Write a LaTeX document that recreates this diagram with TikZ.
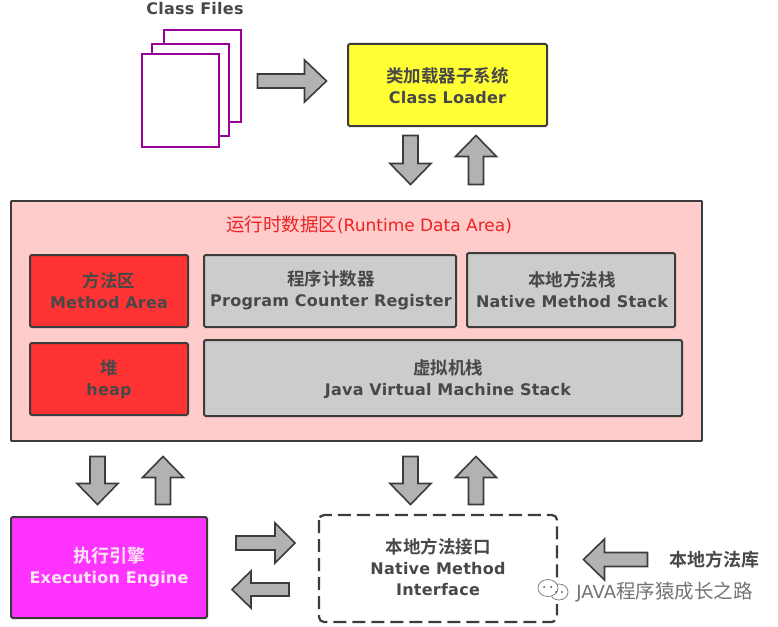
\documentclass[tikz,border=0pt]{standalone}
\usepackage{fontspec}
\setmainfont{DejaVu Sans}
\newfontfamily\lat{DejaVu Sans Bold}[LetterSpace=1.5]
\newfontfamily\cjk{Noto Sans CJK SC}[BoldFont={Noto Sans CJK SC Bold}]
\definecolor{txt}{HTML}{484848}
\definecolor{edge}{HTML}{3C3C3C}
\definecolor{arrowfill}{HTML}{B2B2B2}
\definecolor{purp}{HTML}{990099}
\definecolor{cyellow}{HTML}{FFFF33}
\definecolor{cred}{HTML}{FF3333}
\definecolor{cpink}{HTML}{FFCCCC}
\definecolor{cgray}{HTML}{CCCCCC}
\definecolor{cmag}{HTML}{FF33FF}
\definecolor{ctitle}{HTML}{EE2222}
\tikzset{
  x=1pt,y=-1pt,
  every node/.style={inner sep=0pt,align=center,text=txt},
  lab/.style={font=\lat\fontsize{16}{21}\selectfont},
  box/.style={draw=edge,line width=2pt,rounded corners=1.5pt},
  page/.style={draw=purp,line width=2pt,fill=white},
  blockarrow/.style={draw=edge,fill=arrowfill,line width=1.6pt,line join=miter}
}
\newcommand{\zhb}[1]{{\cjk\bfseries\fontsize{17.5}{21}\selectfont #1}}
% centre x, centre y, angle, length, head width, shaft width, head length
\newcommand{\blockar}[7]{%
  \begin{scope}[shift={(#1,#2)},rotate=#3,x=1pt,y=1pt]
    \draw[blockarrow] ({-#4/2},{-#6/2}) -- ({#4/2-#7},{-#6/2}) -- ({#4/2-#7},{-#5/2})
      -- ({#4/2},0) -- ({#4/2-#7},{#5/2}) -- ({#4/2-#7},{#6/2}) -- ({-#4/2},{#6/2}) -- cycle;
  \end{scope}}
\begin{document}
\begin{tikzpicture}
\useasboundingbox (0,0) rectangle (778,626);
\fill[white] (0,0) rectangle (778,626);

% class files
\node[lab] (cf) at (195,9) {Class Files};
\draw[page] (164,30) rectangle (241,122);
\draw[page] (152,44) rectangle (229,136);
\draw[page] (142,54) rectangle (219,147);

% loader
\draw[box,fill=cyellow] (348,44) rectangle (547,126);
\node[lab] (cl) at (447.5,85.5) {\zhb{类加载器子系统}\\Class Loader};

% runtime area
\draw[draw=edge,line width=1.6pt,fill=cpink,rounded corners=0.5pt] (11,201) rectangle (702,441);
\node (rd) at (369,225) {\fontsize{17}{20}\selectfont\color{ctitle}{\cjk\fontsize{18.5}{20}\selectfont 运行时数据区}(Runtime Data Area)};

\draw[box,fill=cred] (30,255) rectangle (188,327);
\node[lab] (ma) at (109,290.5) {\zhb{方法区}\\Method Area};
\draw[box,fill=cgray] (204,255) rectangle (456,327);
\node[lab] (pc) at (331,290.5) {\zhb{程序计数器}\\Program Counter Register};
\draw[box,fill=cgray] (467,253) rectangle (675,327);
\node[lab] (ns) at (572,290) {\zhb{本地方法栈}\\Native Method Stack};
\draw[box,fill=cred] (30,343) rectangle (188,415);
\node[lab] (hp) at (109,379) {\zhb{堆}\\heap};
\draw[box,fill=cgray] (204,340) rectangle (682,416);
\node[lab] (jv) at (448,379) {\zhb{虚拟机栈}\\Java Virtual Machine Stack};

% engine
\draw[box,fill=cmag] (11,517) rectangle (207,618);
\node[lab,text=white!90!magenta] (ee) at (109,567) {{\cjk\bfseries\fontsize{18}{22}\selectfont 执行引擎}\\Execution Engine};

% native interface
\draw[draw=edge,line width=2.2pt,dash pattern=on 13pt off 6pt,rounded corners=5pt] (319,515) rectangle (557,622);
\node[lab] (ni) at (438,567) {\zhb{本地方法接口}\\Native Method\\Interface};

% block arrows
\blockar{292}{81}{0}{69}{42}{14}{22}
\blockar{410.5}{160}{-90}{49}{41}{15}{21}
\blockar{476}{160}{90}{49}{41}{15}{21}
\blockar{97.5}{480.5}{-90}{48}{41}{15}{21}
\blockar{163}{480.5}{90}{48}{41}{15}{21}
\blockar{410.5}{480.5}{-90}{48}{41}{15}{21}
\blockar{476}{480.5}{90}{48}{41}{15}{21}
\blockar{265.5}{543}{0}{59}{40}{14}{20}
\blockar{260.5}{589.5}{180}{57}{37}{13}{19}
\blockar{615.5}{559.5}{180}{64}{41}{14}{21}

\node[font=\cjk\bfseries\fontsize{18}{21}\selectfont] (lib) at (714,559.5) {本地方法库};

% watermark
\fill[white] (537,579) rectangle (572,604);
\draw[black!55,line width=0.7pt,fill=white] (559,592) ellipse (9 and 8);
\draw[black!55,line width=0.7pt,fill=white] (548,588) ellipse (10 and 8.5);
\fill[black!70] (544,587) circle (1) (551,587) circle (1) (556,592) circle (1) (562,592) circle (1);
\node (wm) at (664.5,592) {\fontsize{18}{20}\selectfont\color{black!55}JAVA{\cjk\fontsize{19.5}{20}\selectfont 程序猿成长之路}};
\end{tikzpicture}
\end{document}
